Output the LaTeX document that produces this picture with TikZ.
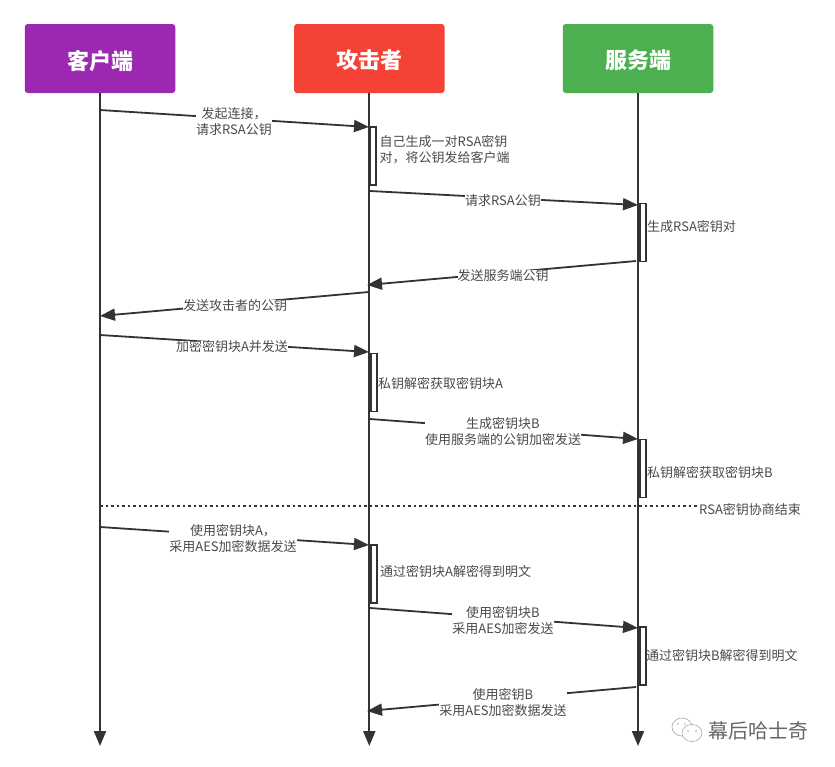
\documentclass[tikz,border=0pt]{standalone}
\usepackage{fontspec}
\setmainfont{Noto Sans CJK SC}
\usetikzlibrary{arrows.meta}
\definecolor{ink}{HTML}{333333}
\definecolor{lbltext}{HTML}{4A4A4A}
\definecolor{purpleh}{HTML}{9C27B0}
\definecolor{redh}{HTML}{F44336}
\definecolor{greenh}{HTML}{4CAF50}
\tikzset{
  x=1pt,y=-1pt,
  actor/.style={minimum width=150.5pt,minimum height=69pt,rounded corners=3pt,inner sep=0pt,text=white,text depth=0pt,font=\fontsize{22}{26}\selectfont\bfseries},
  life/.style={draw=ink,line width=2pt,-{Triangle[length=15pt,width=12pt]}},
  msg/.style={draw=ink,line width=1.8pt,-{Triangle[length=15pt,width=12pt]}},
  lbl/.style={fill=white,text=lbltext,inner sep=0pt,align=center,yshift=-1pt,font=\fontsize{13}{16}\selectfont},
  note/.style={text=lbltext,inner sep=0pt,align=left,anchor=west,yshift=-1pt,font=\fontsize{13}{16}\selectfont},
  act/.style={draw=ink,fill=white,line width=1.6pt,minimum width=6pt,minimum height=58pt,inner sep=0pt},
}
\begin{document}
\begin{tikzpicture}
\useasboundingbox (0,0) rectangle (835,766);
\node[actor,fill=purpleh] (client) at (100,58.5) {\raisebox{-2pt}{客户端}};
\node[actor,fill=redh] (attacker) at (369.3,58.5) {\raisebox{-2pt}{攻击者}};
\node[actor,fill=greenh] (server) at (638,58.5) {\raisebox{-2pt}{服务端}};
\coordinate (cend) at (100,746);
\coordinate (aend) at (369.3,746);
\coordinate (send) at (638,746);
\draw[life] (client.south) -- (cend);
\draw[life] (attacker.south) -- (aend);
\draw[life] (server.south) -- (send);
% activation boxes
\node[act] (b1) at (373,156) {};
\node[act] (b2) at (643,232.5) {};
\node[act] (b3) at (374,382.5) {};
\node[act] (b4) at (643,468.5) {};
\node[act] (b5) at (374,574) {};
\node[act] (b6) at (643,656) {};
% message end points
\coordinate (m1s) at (100,110);   \coordinate (m1e) at (369,127);
\coordinate (m2s) at (370,191);   \coordinate (m2e) at (638,205);
\coordinate (m3s) at (636,261);   \coordinate (m3e) at (367,285);
\coordinate (m4s) at (369,292);   \coordinate (m4e) at (100,316);
\coordinate (m5s) at (100,335);   \coordinate (m5e) at (369,352);
\coordinate (m6s) at (370,419);   \coordinate (m6e) at (638,439);
\coordinate (m7s) at (100,527);   \coordinate (m7e) at (369,545);
\coordinate (m8s) at (370,608);   \coordinate (m8e) at (638,628);
\coordinate (m9s) at (636,687);   \coordinate (m9e) at (367,711);
\coordinate (ds) at (100,506);    \coordinate (de) at (697,506);
\foreach \i in {1,...,9} {\draw[msg] (m\i s) -- (m\i e);}
\draw[draw=ink,line width=1.6pt,dash pattern=on 2.5pt off 3pt] (ds) -- (de);
% message labels
\node[lbl] (t1) at (234,121) {发起连接，\\请求RSA公钥};
\node[lbl] (t2) at (503,200) {请求RSA公钥};
\node[lbl] (t3) at (503,275) {发送服务端公钥};
\node[lbl] (t4) at (235,305) {发送攻击者的公钥};
\node[lbl] (t5) at (232,346) {加密密钥块A并发送};
\node[lbl] (t6) at (503,431) {生成密钥块B\\使用服务端的公钥加密发送};
\node[lbl] (t7) at (233,538) {使用密钥块A，\\采用AES加密数据发送};
\node[lbl] (t8) at (503,620) {使用密钥块B\\采用AES加密发送};
\node[lbl] (t9) at (503,702) {使用密钥B\\采用AES加密数据发送};
% notes
\node[note] (n1) at (379.5,149) {自己生成一对RSA密钥\\对，将公钥发给客户端};
\node[note] (n2) at (647,226) {生成RSA密钥对};
\node[note] (n3) at (378,383) {私钥解密获取密钥块A};
\node[note] (n4) at (647,472) {私钥解密获取密钥块B};
\node[note] (n5) at (380,571) {通过密钥块A解密得到明文};
\node[note] (n6) at (646,655) {通过密钥块B解密得到明文};
\node[note] (n7) at (699,509) {RSA密钥协商结束};
% watermark
\draw[gray!70,line width=.6pt,fill=white] (682,727) ellipse [x radius=10,y radius=9];
\draw[gray!70,line width=.6pt,fill=white] (692,733) ellipse [x radius=10,y radius=8.5];
\fill[gray!70] (688,731) circle (.8) (696,731) circle (.8) (678,724) circle (.8) (685,724) circle (.8);
\node[inner sep=0pt,anchor=west,text=black!60,font=\fontsize{20}{24}\selectfont] (wm) at (708,731) {幕后哈士奇};
\end{tikzpicture}
\end{document}
